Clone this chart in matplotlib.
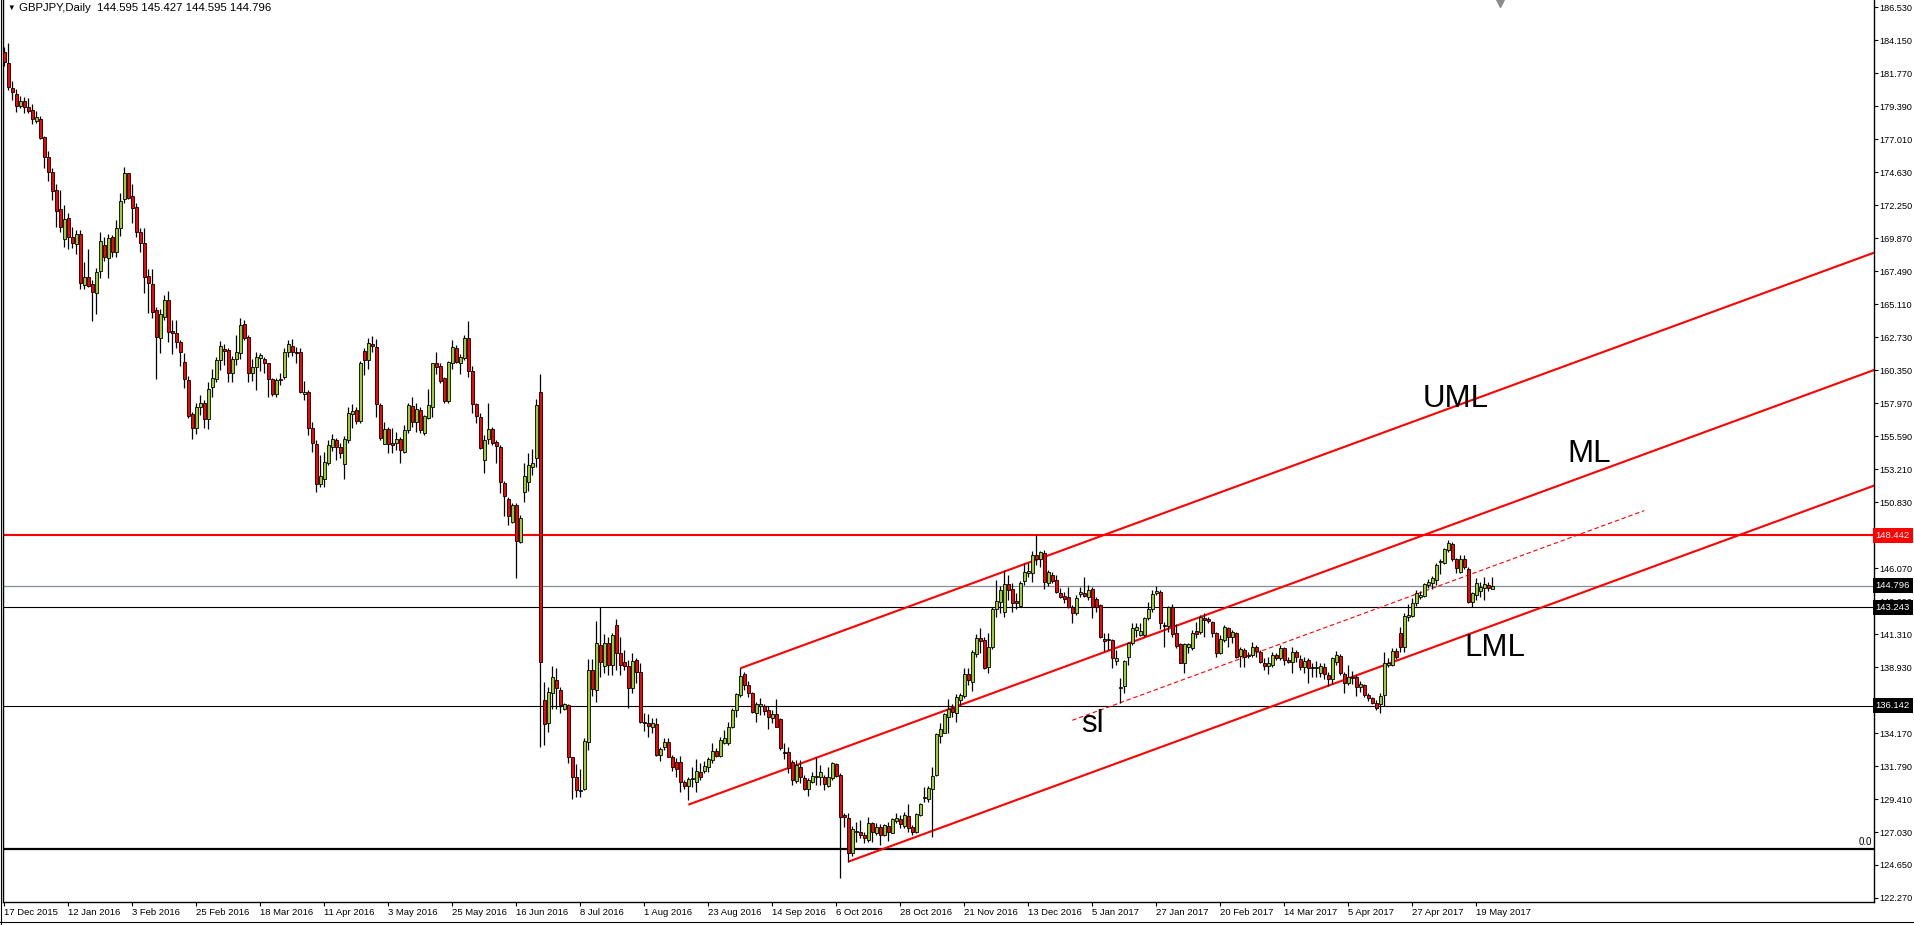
import matplotlib
matplotlib.use("Agg")
import matplotlib.pyplot as plt
import matplotlib.lines as mlines
import numpy as np

plt.rcParams["font.family"] = ["Liberation Sans", "DejaVu Sans"]

# GBPJPY daily candles, one bar per trading day, 17 Dec 2015 .. 25 May 2017
header = "GBPJPY,Daily  144.595 145.427 144.595 144.796"

opens = [
    183.28, 182.49, 180.69, 180.25, 179.43, 179.77, 179.31, 179.12, 178.35, 178.47,
    177.15, 175.71, 174.63, 173.33, 171.96, 169.79, 171.31, 169.93, 169.43, 170.17,
    166.49, 167.05, 166.57, 165.89, 167.53, 169.38, 168.42, 169.96, 168.90, 170.58,
    172.68, 174.55, 172.92, 172.10, 170.32, 169.50, 167.15, 166.57, 164.69, 162.65,
    164.16, 165.41, 163.18, 163.00, 162.41, 160.92, 159.64, 157.16, 156.20, 157.72,
    157.96, 156.80, 159.11, 159.71, 161.08, 161.85, 161.80, 160.12, 161.13, 161.60,
    163.68, 162.72, 160.12, 160.55, 161.25, 161.13, 160.84, 159.69, 158.61, 159.67,
    159.88, 161.68, 162.09, 161.68, 161.64, 158.61, 158.75, 156.20, 155.00, 152.11,
    152.47, 153.63, 154.83, 155.31, 154.78, 153.56, 155.31, 157.19, 157.48, 156.70,
    161.73, 161.08, 162.21, 162.00, 157.84, 155.00, 156.08, 155.07, 155.07, 155.36,
    154.47, 156.03, 157.77, 156.60, 157.48, 155.84, 156.87, 157.67, 160.84, 160.65,
    159.81, 158.15, 160.89, 161.93, 160.89, 161.20, 162.65, 160.29, 157.91, 156.99,
    153.87, 155.36, 156.08, 155.14, 154.78, 152.19, 151.03, 149.42, 150.62, 147.98,
    151.59, 152.31, 153.39, 154.04, 158.75, 136.55, 134.87, 137.04, 138.00, 137.27,
    135.91, 136.17, 132.46, 130.97, 130.02, 130.11, 133.55, 138.72, 137.27, 140.52,
    139.01, 140.64, 139.08, 141.96, 139.97, 139.32, 139.01, 137.40, 139.44, 138.60,
    134.99, 134.92, 134.63, 134.82, 132.58, 133.19, 133.50, 132.41, 132.05, 132.05,
    130.66, 130.37, 130.83, 130.66, 131.38, 131.45, 131.74, 132.22, 132.87, 132.51,
    133.48, 133.43, 134.63, 135.83, 136.91, 138.43, 137.63, 137.08, 135.64, 136.12,
    136.12, 135.83, 135.23, 135.54, 135.16, 132.82, 132.82, 132.10, 130.73, 131.70,
    130.90, 130.10, 130.66, 130.97, 131.02, 130.97, 130.35, 130.90, 131.91, 131.14,
    128.26, 128.02, 125.49, 127.05, 127.01, 126.81, 126.45, 127.65, 126.98, 127.37,
    126.81, 127.46, 126.98, 127.85, 127.94, 127.46, 128.18, 127.37, 127.05, 128.26,
    129.46, 129.39, 130.11, 131.14, 133.96, 134.20, 135.35, 136.00, 135.64, 136.55,
    136.84, 138.43, 137.88, 139.87, 141.00, 140.88, 138.96, 140.35, 143.10, 143.65,
    142.93, 144.90, 144.54, 143.70, 143.34, 145.16, 145.74, 145.74, 147.02, 146.70,
    147.13, 145.02, 145.57, 145.21, 144.30, 144.06, 144.01, 143.29, 142.81, 144.18,
    144.25, 143.96, 144.54, 143.82, 143.41, 140.93, 140.88, 140.88, 139.39, 137.39,
    137.56, 139.68, 140.64, 141.60, 141.24, 141.24, 142.45, 143.10, 144.25, 144.37,
    141.94, 141.89, 143.29, 141.41, 140.59, 139.25, 140.35, 140.28, 141.55, 141.48,
    142.45, 142.37, 142.21, 141.41, 139.97, 140.88, 141.72, 141.07, 141.36, 139.73,
    140.16, 139.73, 139.80, 140.40, 140.04, 139.25, 139.01, 139.08, 139.80, 139.56,
    140.28, 139.44, 139.32, 140.04, 139.49, 138.96, 139.44, 138.96, 138.84, 138.48,
    138.96, 138.36, 138.04, 139.32, 139.73, 138.43, 137.75, 138.12, 138.19, 137.47,
    137.63, 136.91, 136.67, 136.36, 136.26, 136.91, 139.08, 139.08, 140.11, 141.41,
    140.40, 142.57, 142.61, 143.53, 143.96, 144.06, 144.85, 145.02, 145.21, 146.53,
    146.46, 147.37, 147.81, 146.70, 145.81, 146.70, 145.98, 143.65, 144.13, 144.44,
    144.61, 144.83, 144.595,
]

highs = [
    183.69, 183.93, 181.21, 180.61, 180.13, 180.08, 180.01, 179.53, 179.05, 178.69,
    177.25, 176.16, 174.91, 173.78, 173.35, 172.27, 171.67, 170.70, 170.46, 170.46,
    168.18, 169.07, 166.86, 167.70, 170.34, 169.93, 170.17, 170.10, 171.19, 173.11,
    175.03, 174.60, 173.78, 172.44, 170.58, 170.58, 167.63, 167.63, 164.93, 164.74,
    165.77, 166.06, 163.97, 163.97, 162.53, 161.57, 159.93, 157.36, 158.00, 158.56,
    158.20, 159.52, 160.41, 161.32, 162.45, 162.24, 161.93, 161.37, 162.89, 164.09,
    163.97, 162.89, 161.13, 161.69, 161.61, 161.32, 160.84, 159.76, 159.76, 160.12,
    161.93, 162.53, 162.57, 162.05, 161.93, 159.57, 158.92, 156.63, 155.31, 154.23,
    154.47, 155.31, 155.74, 155.43, 155.07, 155.60, 157.67, 157.91, 157.72, 161.03,
    161.93, 162.65, 162.81, 162.57, 158.00, 156.63, 156.27, 156.15, 155.91, 155.55,
    156.39, 157.96, 158.44, 158.00, 157.72, 157.12, 158.97, 160.89, 161.64, 160.89,
    159.88, 161.03, 162.53, 162.17, 161.52, 162.89, 163.92, 160.65, 158.00, 157.28,
    155.67, 158.00, 156.22, 155.31, 154.95, 152.38, 151.22, 150.74, 150.74, 149.90,
    153.63, 154.40, 154.64, 158.25, 160.07, 137.88, 137.51, 139.01, 138.84, 137.51,
    136.36, 136.27, 132.46, 131.93, 131.55, 133.79, 139.49, 139.49, 142.28, 143.24,
    141.32, 141.07, 141.41, 142.37, 141.07, 140.16, 139.44, 139.92, 139.56, 139.25,
    135.59, 135.54, 135.23, 135.23, 133.19, 133.79, 133.79, 132.58, 132.34, 132.51,
    130.78, 130.97, 131.74, 132.27, 131.98, 132.17, 132.46, 133.43, 133.07, 133.91,
    134.39, 134.99, 135.95, 137.03, 138.84, 138.60, 137.95, 137.15, 136.43, 136.67,
    136.27, 136.12, 135.83, 136.60, 135.23, 133.48, 133.14, 132.22, 132.22, 132.22,
    131.14, 130.90, 131.38, 132.46, 131.86, 131.14, 131.74, 132.10, 131.98, 131.26,
    128.38, 128.43, 127.46, 127.77, 127.89, 127.05, 128.14, 127.77, 127.65, 127.61,
    127.61, 127.77, 128.02, 128.38, 128.26, 128.50, 129.05, 127.53, 128.43, 129.15,
    130.30, 130.35, 131.74, 134.15, 134.87, 135.64, 136.60, 136.26, 136.98, 137.08,
    138.84, 138.84, 140.16, 141.32, 141.72, 141.12, 141.36, 143.24, 145.21, 144.78,
    145.93, 145.57, 144.97, 144.25, 145.14, 146.41, 146.41, 147.30, 148.46, 147.33,
    147.37, 145.93, 145.81, 145.57, 144.61, 144.37, 144.68, 143.41, 144.13, 144.73,
    145.40, 144.85, 144.73, 144.01, 143.48, 141.41, 141.41, 140.93, 140.16, 138.12,
    139.44, 140.76, 142.13, 142.13, 142.09, 142.57, 143.65, 144.49, 144.78, 144.49,
    142.21, 143.34, 143.48, 142.04, 140.64, 140.69, 140.69, 141.60, 142.21, 142.69,
    142.81, 142.57, 142.28, 141.48, 141.24, 141.96, 141.80, 141.60, 141.48, 140.40,
    140.28, 140.04, 140.76, 140.52, 140.16, 139.56, 139.68, 140.04, 139.92, 140.52,
    140.40, 139.68, 140.40, 140.16, 139.80, 139.68, 139.56, 139.20, 139.39, 139.20,
    139.20, 138.60, 139.68, 140.11, 139.87, 138.60, 139.08, 138.67, 138.36, 137.95,
    137.71, 137.08, 136.79, 136.55, 137.03, 140.04, 139.56, 140.28, 140.28, 141.84,
    142.81, 143.48, 143.89, 144.49, 144.44, 145.02, 145.26, 145.50, 146.41, 146.70,
    147.50, 148.10, 147.98, 146.77, 147.01, 147.01, 146.12, 144.37, 145.33, 145.09,
    145.40, 145.09, 145.427,
]

lows = [
    182.32, 180.57, 179.84, 179.00, 179.29, 178.93, 178.93, 178.09, 178.21, 177.01,
    174.91, 174.02, 172.63, 170.70, 170.34, 169.26, 169.12, 169.14, 168.73, 166.23,
    166.23, 166.37, 163.92, 164.40, 166.98, 168.25, 166.98, 168.54, 168.54, 170.03,
    172.39, 172.68, 171.00, 169.98, 168.90, 165.94, 164.50, 164.10, 159.71, 161.60,
    163.97, 162.41, 161.50, 161.93, 160.65, 159.04, 156.87, 155.36, 155.75, 157.12,
    156.15, 156.08, 158.44, 159.52, 160.36, 160.72, 159.52, 159.52, 160.72, 161.16,
    162.53, 159.52, 159.59, 158.92, 160.31, 160.17, 158.39, 158.49, 158.44, 159.28,
    159.69, 161.32, 161.37, 160.84, 158.68, 158.20, 155.67, 154.47, 151.58, 151.94,
    151.94, 153.51, 154.54, 153.87, 154.04, 152.47, 155.07, 156.15, 156.46, 156.51,
    160.00, 160.41, 161.68, 157.00, 155.31, 155.00, 154.40, 154.40, 154.59, 153.63,
    154.35, 155.79, 156.27, 155.91, 155.79, 155.67, 156.80, 157.00, 160.07, 159.45,
    158.00, 157.96, 160.41, 160.89, 160.07, 161.08, 159.88, 157.24, 156.56, 154.64,
    152.91, 155.00, 154.95, 153.63, 151.46, 149.83, 149.18, 149.30, 145.38, 147.91,
    150.86, 151.66, 152.79, 153.34, 133.19, 133.31, 134.27, 135.88, 135.88, 135.59,
    135.83, 131.98, 129.39, 129.58, 129.58, 130.06, 132.94, 136.84, 136.38, 138.24,
    138.48, 138.36, 138.36, 138.72, 138.36, 138.72, 135.95, 137.08, 137.76, 134.92,
    134.34, 133.86, 134.20, 132.51, 132.18, 132.94, 132.41, 131.45, 130.97, 129.94,
    130.11, 129.34, 130.30, 129.94, 130.78, 131.31, 131.38, 131.98, 132.41, 132.41,
    133.38, 133.31, 134.51, 135.35, 136.79, 137.27, 136.79, 135.59, 134.99, 135.47,
    135.47, 134.44, 134.92, 134.58, 132.94, 132.27, 131.31, 130.42, 130.54, 130.54,
    130.06, 129.63, 130.54, 130.42, 130.42, 130.06, 130.25, 130.78, 131.02, 123.70,
    127.41, 124.89, 125.30, 126.33, 126.57, 126.26, 126.33, 126.33, 126.81, 126.09,
    126.74, 126.40, 126.93, 127.71, 127.29, 127.29, 127.05, 126.81, 126.93, 128.18,
    129.22, 129.22, 126.69, 131.07, 133.43, 134.15, 134.15, 135.35, 134.99, 136.19,
    136.67, 137.63, 137.23, 139.68, 139.92, 138.76, 138.48, 140.21, 142.57, 142.81,
    142.52, 143.77, 142.93, 143.10, 143.24, 144.85, 145.45, 145.09, 146.29, 146.12,
    144.54, 144.78, 145.02, 144.25, 143.89, 143.53, 143.17, 142.13, 142.69, 144.01,
    143.96, 143.77, 142.45, 142.93, 141.00, 140.11, 140.16, 138.84, 139.08, 136.36,
    137.03, 139.08, 140.52, 141.12, 141.17, 141.12, 142.33, 142.93, 144.13, 141.65,
    140.40, 141.48, 141.07, 140.28, 139.20, 138.53, 139.92, 140.16, 141.00, 141.32,
    141.07, 142.09, 141.12, 139.68, 139.87, 140.76, 140.40, 140.69, 139.56, 138.96,
    138.91, 139.56, 139.68, 139.68, 139.20, 138.72, 138.43, 138.91, 139.44, 139.44,
    139.08, 139.20, 138.53, 139.32, 138.72, 138.48, 137.75, 138.24, 138.19, 138.24,
    138.04, 137.56, 137.71, 139.08, 138.36, 137.08, 137.63, 137.71, 136.84, 137.15,
    136.79, 136.50, 136.26, 135.83, 135.59, 136.12, 138.96, 139.01, 139.49, 140.04,
    140.04, 142.28, 142.57, 143.34, 143.82, 143.96, 144.61, 144.54, 144.85, 145.64,
    146.36, 147.25, 146.60, 145.74, 145.74, 145.98, 143.53, 143.24, 143.77, 144.01,
    143.77, 144.44, 144.595,
]

closes = [
    182.61, 180.81, 180.40, 179.43, 179.77, 179.36, 179.07, 178.45, 178.59, 177.08,
    175.71, 174.67, 173.30, 171.86, 170.66, 171.23, 169.93, 169.50, 170.17, 166.67,
    167.05, 166.45, 165.97, 167.41, 169.67, 168.54, 169.86, 168.90, 170.58, 172.56,
    174.55, 172.75, 172.03, 170.34, 169.55, 167.10, 166.62, 164.57, 162.72, 164.38,
    165.41, 163.13, 163.06, 162.36, 161.69, 159.74, 157.04, 156.20, 157.69, 157.96,
    156.80, 158.99, 159.76, 161.08, 162.09, 161.76, 160.12, 161.16, 161.68, 163.61,
    162.65, 160.12, 160.55, 161.28, 161.44, 160.84, 159.69, 158.61, 159.64, 159.74,
    161.68, 162.21, 161.64, 161.56, 158.80, 158.75, 156.15, 155.07, 152.11, 152.74,
    153.70, 154.95, 155.38, 154.78, 154.35, 155.36, 157.24, 157.41, 156.70, 160.84,
    161.08, 162.29, 162.09, 157.91, 155.43, 156.08, 155.00, 154.95, 155.36, 154.59,
    156.03, 157.84, 156.60, 157.53, 156.03, 157.05, 157.84, 160.84, 160.60, 159.59,
    158.15, 160.92, 162.00, 160.96, 161.27, 162.65, 160.31, 157.89, 157.04, 154.76,
    155.31, 156.08, 155.12, 154.88, 152.26, 151.27, 149.83, 150.62, 148.05, 149.66,
    152.72, 153.50, 153.68, 157.84, 139.32, 134.82, 137.10, 138.24, 137.40, 136.19,
    136.27, 132.46, 130.97, 130.06, 130.06, 133.62, 138.72, 137.32, 140.64, 139.32,
    140.69, 139.08, 141.24, 139.97, 139.08, 139.01, 137.40, 139.37, 138.60, 134.99,
    134.87, 134.68, 134.92, 132.58, 132.99, 133.55, 132.46, 131.74, 131.55, 130.66,
    130.35, 130.83, 130.93, 131.45, 130.97, 131.79, 132.27, 132.87, 132.51, 133.67,
    133.79, 134.63, 135.83, 136.96, 138.28, 137.63, 137.08, 135.71, 136.27, 136.27,
    135.78, 135.30, 135.54, 134.63, 133.07, 132.70, 131.62, 130.78, 131.86, 130.97,
    130.10, 130.78, 131.07, 131.07, 131.38, 130.49, 130.97, 131.98, 131.07, 128.09,
    128.09, 125.49, 127.22, 127.13, 126.81, 126.57, 127.65, 127.05, 127.37, 126.81,
    127.53, 127.05, 127.94, 128.02, 127.61, 128.26, 127.29, 127.05, 128.33, 129.05,
    129.58, 130.18, 131.07, 134.08, 134.44, 135.52, 135.88, 135.71, 136.74, 136.91,
    138.43, 137.99, 139.99, 141.00, 140.83, 138.84, 140.35, 143.10, 143.70, 144.49,
    144.90, 144.49, 143.58, 143.53, 144.97, 145.81, 145.86, 147.02, 146.70, 147.25,
    145.09, 145.81, 145.16, 144.37, 144.01, 143.82, 143.29, 142.86, 143.89, 144.35,
    144.06, 144.49, 143.29, 143.24, 141.07, 140.83, 140.93, 139.56, 139.56, 137.51,
    139.39, 140.64, 141.72, 141.84, 141.53, 142.45, 143.10, 144.20, 144.44, 142.09,
    141.89, 143.29, 141.32, 140.45, 139.25, 140.59, 140.59, 141.41, 141.32, 142.52,
    142.33, 142.28, 141.36, 139.97, 140.93, 141.84, 141.07, 141.48, 139.68, 140.21,
    139.68, 139.80, 140.40, 140.11, 139.32, 139.01, 139.25, 139.80, 139.56, 140.28,
    139.44, 139.32, 140.04, 139.63, 138.96, 139.37, 138.84, 138.84, 138.96, 139.01,
    138.43, 138.04, 139.56, 139.80, 138.48, 137.75, 138.19, 138.24, 137.47, 137.71,
    136.91, 136.67, 136.36, 135.95, 136.84, 139.25, 139.20, 140.11, 139.63, 140.40,
    142.61, 142.69, 143.58, 144.30, 144.13, 144.92, 145.09, 145.33, 146.29, 146.60,
    147.42, 147.90, 146.70, 146.05, 146.70, 146.12, 143.65, 144.25, 144.97, 144.68,
    144.92, 144.61, 144.796,
]

date_labels = [
    "17 Dec 2015", "12 Jan 2016", "3 Feb 2016", "25 Feb 2016", "18 Mar 2016",
    "11 Apr 2016", "3 May 2016", "25 May 2016", "16 Jun 2016", "8 Jul 2016",
    "1 Aug 2016", "23 Aug 2016", "14 Sep 2016", "6 Oct 2016", "28 Oct 2016",
    "21 Nov 2016", "13 Dec 2016", "5 Jan 2017", "27 Jan 2017", "20 Feb 2017",
    "14 Mar 2017", "5 Apr 2017", "27 Apr 2017", "19 May 2017",
]
bars_per_label = 16

price_ticks = [
    186.530, 184.150, 181.770, 179.390, 177.010, 174.630, 172.250, 169.870,
    167.490, 165.110, 162.730, 160.350, 157.970, 155.590, 153.210, 150.830,
    148.450, 146.070, 143.690, 141.310, 138.930, 136.550, 134.170, 131.790,
    129.410, 127.030, 124.650, 122.270,
]

# horizontal levels drawn on the chart
resistance_level = 148.442
bid_level = 144.796
support_levels = [143.243, 136.142]
fibo_zero_level = 125.80

# Andrews pitchfork: anchor bar / price of each prong, common slope (price per bar)
fork_names = ["UML", "ML", "LML"]
fork_bars = [184, 171, 211]
fork_prices = [138.84, 129.00, 124.89]
fork_slope = 0.1058
# sliding parallel ("sl") through the January 2017 low
sl_bars = [267, 410]
sl_prices = [135.09, 150.22]

# ---------------------------------------------------------------------------
o = np.array(opens)
h = np.array(highs)
l = np.array(lows)
c = np.array(closes)
assert len(o) == len(h) == len(l) == len(c)
x = np.arange(len(c))

fig = plt.figure(figsize=(19.15, 9.25), dpi=100)
fig.patch.set_facecolor("white")
W, H = 1915.0, 925.0
ax = fig.add_axes([3.2 / W, (H - 902) / H, (1874 - 3.2) / W, 902 / H])
ax.set_xlim(-0.275, 467.425)
ax.set_ylim(121.98, 187.058)

# candles
up = c >= o
body_low = np.minimum(o, c)
body_h = np.abs(c - o)
ax.vlines(x, l, h, color="black", linewidth=0.9, zorder=3)
ax.bar(x[up], body_h[up], bottom=body_low[up], width=0.72, color="#9acd32",
       edgecolor="black", linewidth=0.6, zorder=4)
ax.bar(x[~up], body_h[~up], bottom=body_low[~up], width=0.72, color="#ff0000",
       edgecolor="black", linewidth=0.6, zorder=4)

# levels
ax.axhline(resistance_level, color="#ff0000", linewidth=1.5, zorder=2)
ax.axhline(bid_level, color="#868d96", linewidth=0.9, zorder=2)
for lev in support_levels:
    ax.axhline(lev, color="black", linewidth=0.8, zorder=2)
ax.axhline(fibo_zero_level, color="black", linewidth=1.6, zorder=2)
ax.text(0.999, fibo_zero_level + 0.12, "0.0", transform=ax.get_yaxis_transform(),
        ha="right", va="bottom", fontsize=7, zorder=6)

# pitchfork prongs, extended past the right edge
end_bar = 480
for b0, p0 in zip(fork_bars, fork_prices):
    ax.plot([b0, end_bar], [p0, p0 + fork_slope * (end_bar - b0)],
            color="#ff0000", linewidth=1.5, zorder=2, solid_capstyle="butt")
ax.plot(sl_bars, sl_prices, color="#ff0000", linewidth=0.8,
        linestyle=(0, (4, 2.5)), zorder=2)

# prong labels
label_font = dict(fontsize=22.5, color="black", ha="left", va="baseline", zorder=6)
ax.text(354.7, 157.69, "UML", **label_font)
ax.text(390.7, 153.72, "ML", **label_font)
ax.text(364.9, 139.73, "LML", **label_font)
ax.text(269.2, 134.24, "sl", **label_font)

# axes styling (MT4 look)
ax.spines["top"].set_visible(False)
for side in ["left", "bottom", "right"]:
    ax.spines[side].set_color("black")
    ax.spines[side].set_linewidth(1.0)

# the 148.450 scale label sits under the red price tag, so it is left blank
tag_levels = [resistance_level, bid_level] + support_levels
ax.yaxis.tick_right()
ax.set_yticks(price_ticks)
ax.set_yticklabels(["" if abs(p - resistance_level) < 0.05 else "%.3f" % p
                    for p in price_ticks])
ax.tick_params(axis="y", which="both", direction="out", length=3, width=0.8,
               pad=1.2, labelsize=6.6, colors="black", left=False)

tick_bars = [i * bars_per_label for i in range(len(date_labels))]
ax.set_xticks(tick_bars)
ax.set_xticklabels(date_labels)
for lbl in ax.get_xticklabels():
    lbl.set_horizontalalignment("left")
ax.tick_params(axis="x", direction="out", length=3, width=0.8, pad=1.5,
               labelsize=6.8, colors="black")

# price tags on the right scale
tag_style = dict(transform=ax.get_yaxis_transform(), ha="left", va="center",
                 fontsize=6.8, color="white", zorder=10, clip_on=False)
tag_colors = ["#ff0000", "black", "black", "black"]
for lev, col in zip(tag_levels, tag_colors):
    ax.text(1.0009, lev, "%.3f" % lev,
            bbox=dict(boxstyle="square,pad=0.3", fc=col, ec="none"), **tag_style)

# chart shift marker at the top
ax.plot([373.9], [186.84], marker="v", markersize=6, color="#8c8c8c",
        clip_on=False, zorder=6)

# header
fig.text(7 / W, 1 - 8.5 / H, "\u25bc", fontsize=5.5, va="center", ha="left")
fig.text(19 / W, 1 - 8.3 / H, header, fontsize=8.2, va="center", ha="left")

# window frame lines
fig.add_artist(mlines.Line2D([0.6 / W, 0.6 / W], [0, 1], transform=fig.transFigure,
                             color="black", linewidth=0.8))
fig.add_artist(mlines.Line2D([0, 1], [3 / H, 3 / H], transform=fig.transFigure,
                             color="black", linewidth=0.8))

fig.savefig("out.png", dpi=100, facecolor="white")
